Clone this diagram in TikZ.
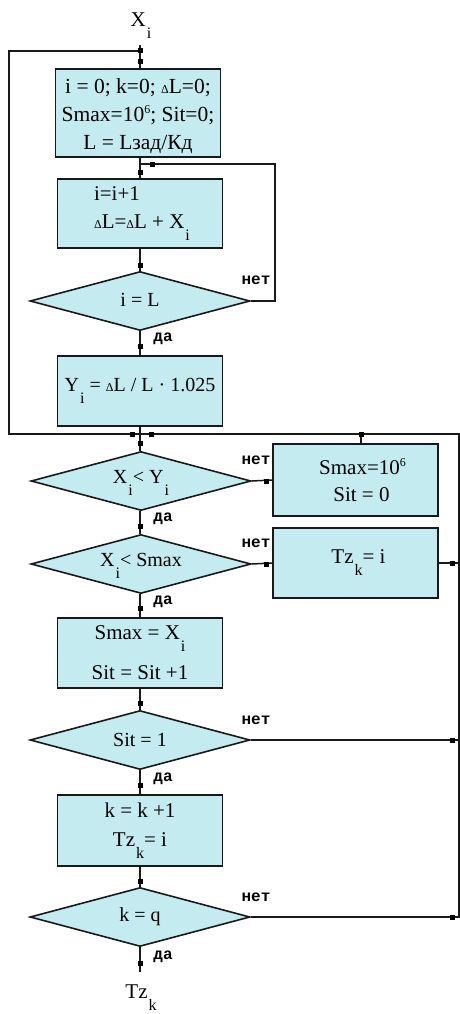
\documentclass[tikz,border=0pt]{standalone}
\usepackage{fontspec}
\setmainfont{Liberation Serif}
\newfontfamily\labfont{Liberation Mono}
\usetikzlibrary{shapes.geometric}
\definecolor{fillc}{RGB}{196,236,240}
\definecolor{linec}{RGB}{25,25,25}
\newcommand\dn[1]{\hspace{1pt}\raisebox{-12pt}{\fontsize{16}{16}\selectfont #1}}
\newcommand\upx[1]{\raisebox{0.9ex}{\fontsize{12}{12}\selectfont #1}}
\newcommand\dl{{\fontsize{12}{12}\selectfont Δ}}
\newcommand\dtx[2]{\smash{\raisebox{#1}{\makebox[0pt]{#2}}}}
\begin{document}
\begin{tikzpicture}[x=1pt,y=-1pt,
  box/.style={draw=linec, line width=1.6pt, fill=fillc, rectangle, minimum width=165pt, inner sep=0pt, font=\fontsize{21}{29}\selectfont, align=center},
  dia/.style={draw=linec, line width=1.6pt, fill=fillc, diamond, minimum width=220pt, minimum height=59pt, inner sep=0pt, font=\fontsize{20}{20}\selectfont},
  ln/.style={line width=1.5pt, draw=linec},
  sq/.style={fill=black, minimum size=5pt, inner sep=0pt, rectangle},
  yn/.style={font=\labfont\bfseries\fontsize{16}{16}\selectfont, inner sep=0pt}]
\useasboundingbox (0,0) rectangle (460,1014);

% nodes
\node[font=\fontsize{21}{21}\selectfont, anchor=base] (xin) at (141,27) {X\dn{i}};
\node[box, minimum height=88pt, font=\fontsize{21.5}{28}\selectfont] (b1) at (138,113) {\rule{0pt}{22pt}i = 0; k=0; \dl L=0;\\ Smax=10\upx{6}; Sit=0;\\ L = Lзад/Кд};
\node[box, minimum height=69pt, align=left, font=\fontsize{21}{28}\selectfont] (b2) at (140,213.5) {\hspace*{4pt}i=i+1\\ \hspace*{4pt}\dl L=\dl L + X\dn{i}};
\node[dia] (d1) at (140,301) {\dtx{-5pt}{i = L}};
\node[box, minimum height=70pt, font=\fontsize{20}{29}\selectfont] (b3) at (140,391) {Y\dn{i} = \dl L / L · 1.025};
\node[dia] (d2) at (141,481) {\dtx{-2pt}{X\dn{i}< Y\dn{i}}};
\node[box, minimum height=72pt, font=\fontsize{21}{27}\selectfont] (sb) at (355.5,480) {\hspace*{14pt}Smax=10\upx{6}\\ \hspace*{12pt}Sit = 0};
\node[dia] (d3) at (141,564) {\dtx{-2pt}{X\dn{i}< Smax}};
\node[box, minimum height=70pt] (tz) at (355.5,563) {\hspace*{6pt}Tz\dn{k}= i};
\node[box, minimum height=70pt, font=\fontsize{21}{40}\selectfont] (b4) at (140,653) {Smax = X\dn{i}\\ Sit = Sit +1};
\node[dia] (d4) at (140,740) {\dtx{-6pt}{Sit = 1}};
\node[box, minimum height=71pt, font=\fontsize{21}{29}\selectfont] (b5) at (140,830.5) {k = k +1\\ Tz\dn{k}= i};
\node[dia] (d5) at (140,917) {\dtx{-4pt}{k = q}};
\node[font=\fontsize{21}{21}\selectfont, anchor=base] (out) at (141,998) {Tz\dn{k}};

% junction coordinates
\coordinate (jtop) at (140,51);
\coordinate (j1) at (140,164);
\coordinate (jmid) at (140,434);
\coordinate (jr) at (459,434);
\coordinate (jl) at (9,434);
\coordinate (ltop) at (9,51);
\coordinate (r1) at (275,164);
\coordinate (r1b) at (275,301);
\coordinate (tzr) at (459,563);
\coordinate (d4r) at (459,740);
\coordinate (d5r) at (459,917);
\coordinate (sbt) at (361,434);
\coordinate (xend) at (140,45);
\coordinate (oend) at (140,972);

% connectors
\draw[ln] (xend) -- (b1.north -| xend);
\draw[ln] (jmid) -- (jl) -- (ltop) -- (jtop);
\draw[ln] (b1.south -| xend) -- (b2.north);
\draw[ln] (b2.south) -- (d1.north);
\draw[ln] (d1.east) -- (r1b) -- (r1) -- (j1);
\draw[ln] (d1.south) -- (b3.north);
\draw[ln] (b3.south) -- (d2.north -| b3.south);
\draw[ln] (d5.east) -- (d5r) -- (jr) -- (jmid);
\draw[ln] (sb.north -| sbt) -- (sbt);
\draw[ln] (d2.east) -- (sb.west);
\draw[ln] (d2.south -| b3.south) -- (d3.north -| b3.south);
\draw[ln] (d3.east) -- (tz.west);
\draw[ln] (tz.east) -- (tzr);
\draw[ln] (d3.south -| b4.north) -- (b4.north);
\draw[ln] (b4.south) -- (d4.north);
\draw[ln] (d4.east) -- (d4r);
\draw[ln] (d4.south) -- (b5.north);
\draw[ln] (b5.south) -- (d5.north);
\draw[ln] (d5.south) -- (oend);

% dots
\node[sq] (q1) at (140,51) {};
\node[sq] (q2) at (140,62) {};
\node[sq] (q3) at (152,164) {};
\node[sq] (q4) at (140,172) {};
\node[sq] (q5) at (140,265) {};
\node[sq] (q6) at (140,346) {};
\node[sq] (q7) at (132,434) {};
\node[sq] (q8) at (151,434) {};
\node[sq] (q9) at (140,443) {};
\node[sq] (q10) at (361,434) {};
\node[sq] (q11) at (266,481) {};
\node[sq] (q12) at (140,526) {};
\node[sq] (q13) at (266,564) {};
\node[sq] (q14) at (452,563) {};
\node[sq] (q15) at (140,608) {};
\node[sq] (q16) at (140,703) {};
\node[sq] (q17) at (452,740) {};
\node[sq] (q18) at (140,785) {};
\node[sq] (q19) at (140,881) {};
\node[sq] (q20) at (452,917) {};
\node[sq] (q21) at (140,963) {};

% labels
\node[yn] (n1) at (256,280) {нет};
\node[yn] (y1) at (163,339) {да};
\node[yn] (n2) at (256,460) {нет};
\node[yn] (y2) at (163,519) {да};
\node[yn] (n3) at (256,543) {нет};
\node[yn] (y3) at (163,602) {да};
\node[yn] (n4) at (256,720) {нет};
\node[yn] (y4) at (163,779) {да};
\node[yn] (n5) at (256,897) {нет};
\node[yn] (y5) at (163,957) {да};
\end{tikzpicture}
\end{document}
